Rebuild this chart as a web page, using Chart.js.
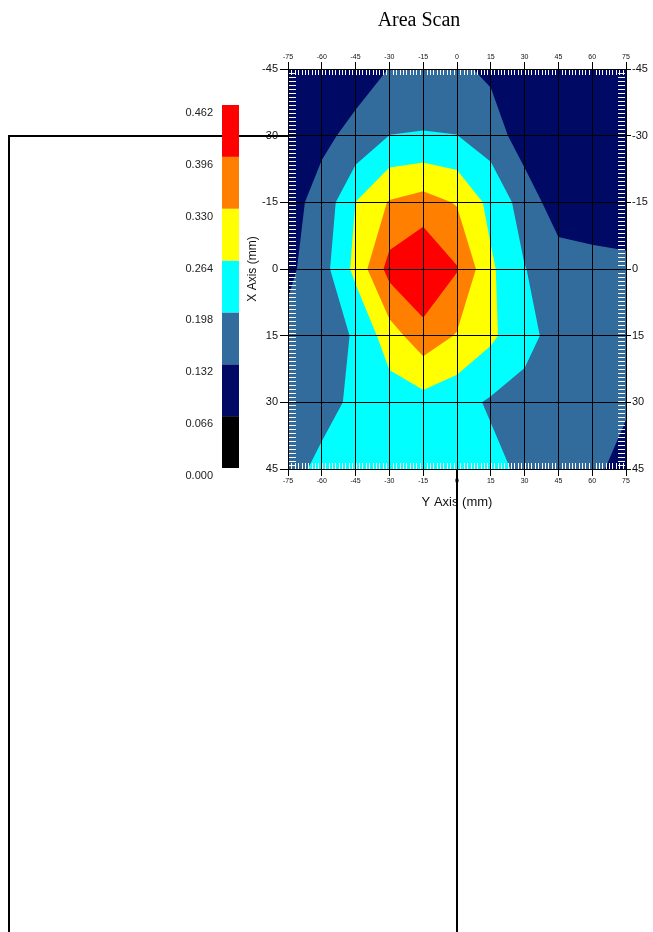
<!DOCTYPE html>
<html>
<head>
<meta charset="utf-8">
<title>Area Scan</title>
<script src="https://cdn.jsdelivr.net/npm/chart.js@4.4.0/dist/chart.umd.min.js"></script>
<style>
    html, body { margin: 0; padding: 0; background: #fff; }
    canvas { display: block; }
</style>
</head>
<body>
<canvas id="scan" width="653" height="932"></canvas>
<script>
// scan node positions in mm: Y runs across, X runs down
const yAxisMm = [-75, -60, -45, -30, -15, 0, 15, 30, 45, 60, 75];
const xAxisMm = [-45, -30, -15, 0, 15, 30, 45];

const rowXm45 = [0.090, 0.100, 0.110, 0.133, 0.140, 0.145, 0.118, 0.100, 0.090, 0.085, 0.080];
const rowXm30 = [0.100, 0.121, 0.146, 0.199, 0.203, 0.199, 0.168, 0.097, 0.090, 0.085, 0.080];
const rowXm15 = [0.113, 0.151, 0.265, 0.335, 0.355, 0.325, 0.245, 0.170, 0.096, 0.090, 0.090];
const rowX0 = [0.118, 0.171, 0.282, 0.420, 0.467, 0.400, 0.275, 0.200, 0.165, 0.156, 0.148];
const rowX15 = [0.150, 0.175, 0.203, 0.300, 0.370, 0.325, 0.277, 0.216, 0.176, 0.160, 0.150];
const rowX30 = [0.150, 0.170, 0.215, 0.230, 0.240, 0.221, 0.190, 0.179, 0.160, 0.150, 0.145];
const rowX45 = [0.170, 0.218, 0.225, 0.220, 0.220, 0.215, 0.216, 0.185, 0.160, 0.154, 0.096];

// colour bar levels
const levels = [0.000, 0.066, 0.132, 0.198, 0.264, 0.330, 0.396, 0.462];

const bandColors = ['#000000', '#000A64', '#316C9C', '#00FFFF', '#FFFF00', '#FF8000', '#FF0000'];
const grid = [rowXm45, rowXm30, rowXm15, rowX0, rowX15, rowX30, rowX45];

const fontSans = 'Liberation Sans';

// filled contours, marching squares per cell, one path per level
const contourPlugin = {
    id: 'contour',
    beforeDraw(chart) {
        const {ctx, chartArea: a} = chart;
        const xs = chart.scales.x, ys = chart.scales.y;
        ctx.save();
        ctx.beginPath();
        ctx.rect(a.left, a.top, a.right - a.left, a.bottom - a.top);
        ctx.clip();
        for (let k = 0; k < bandColors.length; k++) {
            const lev = levels[k];
            ctx.beginPath();
            for (let i = 0; i < xAxisMm.length - 1; i++) {
                for (let j = 0; j < yAxisMm.length - 1; j++) {
                    const c = [
                        [yAxisMm[j], xAxisMm[i], grid[i][j]],
                        [yAxisMm[j + 1], xAxisMm[i], grid[i][j + 1]],
                        [yAxisMm[j + 1], xAxisMm[i + 1], grid[i + 1][j + 1]],
                        [yAxisMm[j], xAxisMm[i + 1], grid[i + 1][j]]
                    ];
                    const pts = [];
                    for (let m = 0; m < 4; m++) {
                        const p = c[m], q = c[(m + 1) % 4];
                        if (p[2] >= lev) pts.push([p[0], p[1]]);
                        if ((p[2] >= lev) !== (q[2] >= lev)) {
                            const t = (lev - p[2]) / (q[2] - p[2]);
                            pts.push([p[0] + t * (q[0] - p[0]), p[1] + t * (q[1] - p[1])]);
                        }
                    }
                    if (pts.length < 3) continue;
                    pts.forEach(function (pt, n) {
                        const px = xs.getPixelForValue(pt[0]);
                        const py = ys.getPixelForValue(pt[1]);
                        if (n === 0) ctx.moveTo(px, py); else ctx.lineTo(px, py);
                    });
                    ctx.closePath();
                }
            }
            ctx.fillStyle = bandColors[k];
            ctx.fill();
        }

        // white minor ticks along the inside of the frame
        ctx.strokeStyle = '#ffffff';
        ctx.lineWidth = 1;
        ctx.beginPath();
        for (let v = -75 + 1.5; v < 75; v += 1.5) {
            const px = Math.round(xs.getPixelForValue(v)) + 0.5;
            ctx.moveTo(px, a.top);
            ctx.lineTo(px, a.top + 6);
            ctx.moveTo(px, a.bottom);
            ctx.lineTo(px, a.bottom - 6);
        }
        for (let v = -45 + 0.9; v < 45; v += 0.9) {
            const py = Math.round(ys.getPixelForValue(v)) + 0.5;
            ctx.moveTo(a.left + 1, py);
            ctx.lineTo(a.left + 8, py);
            ctx.moveTo(a.right - 1, py);
            ctx.lineTo(a.right - 8, py);
        }
        ctx.stroke();
        ctx.restore();
    },
    afterDraw(chart) {
        const {ctx, chartArea: a} = chart;
        const xs = chart.scales.x, ys = chart.scales.y;
        const H = chart.height;
        ctx.save();

        // connector lines
        ctx.strokeStyle = '#000';
        ctx.lineWidth = 2;
        const yLine = Math.round(ys.getPixelForValue(-30));
        const xLine = Math.round(xs.getPixelForValue(0));
        ctx.beginPath();
        ctx.moveTo(a.left, yLine);
        ctx.lineTo(9, yLine);
        ctx.lineTo(9, H);
        ctx.moveTo(xLine, a.bottom);
        ctx.lineTo(xLine, H);
        ctx.stroke();

        // colour bar
        const barX = 222, barW = 17, barTop = 105, barBottom = 468;
        const bandH = (barBottom - barTop) / bandColors.length;
        bandColors.forEach(function (col, k) {
            ctx.fillStyle = col;
            ctx.fillRect(barX, barBottom - (k + 1) * bandH, barW, bandH);
        });
        ctx.fillStyle = '#222';
        ctx.font = '11px "' + fontSans + '"';
        ctx.textAlign = 'right';
        ctx.textBaseline = 'middle';
        levels.forEach(function (lv, k) {
            ctx.fillText(lv.toFixed(3), 213, barBottom - k * bandH + 8);
        });

        // title
        ctx.fillStyle = '#000';
        ctx.font = '20px "Liberation Serif"';
        ctx.textAlign = 'center';
        ctx.textBaseline = 'alphabetic';
        ctx.fillText('Area Scan', 419, 26);
        ctx.restore();
    }
};

const smallTicks = {stepSize: 15, font: {family: fontSans, size: 7}, color: '#111', maxRotation: 0, autoSkip: false, padding: 1};
const sideTicks = {stepSize: 15, font: {family: fontSans, size: 11}, color: '#111', autoSkip: false};

const chart = new Chart(document.getElementById('scan'), {
    type: 'scatter',
    data: {datasets: []},
    options: {
        responsive: false,
        animation: false,
        layout: {padding: {left: 245, right: 0, top: 47, bottom: 418}},
        plugins: {
            legend: {display: false},
            tooltip: {enabled: false},
            title: {display: false}
        },
        scales: {
            x: {
                type: 'linear', position: 'bottom', min: -75, max: 75,
                ticks: smallTicks,
                grid: {color: '#000', lineWidth: 1, tickLength: 7},
                border: {color: '#000'},
                title: {display: true, text: 'Y Axis (mm)', color: '#111', font: {family: fontSans, size: 13}, padding: {top: 0, bottom: 4}},
                afterFit: function (s) { s.height = 45; }
            },
            x2: {
                type: 'linear', axis: 'x', position: 'top', min: -75, max: 75,
                ticks: smallTicks,
                grid: {color: '#000', drawOnChartArea: false, tickLength: 7},
                border: {color: '#000'},
                afterFit: function (s) { s.height = 22; }
            },
            y: {
                type: 'linear', position: 'left', min: -45, max: 45, reverse: true,
                ticks: Object.assign({}, sideTicks, {padding: 2}),
                grid: {color: '#000', lineWidth: 1, tickLength: 8},
                border: {color: '#000'},
                title: {display: true, text: 'X Axis (mm)', color: '#111', font: {family: fontSans, size: 12}, padding: 0},
                afterFit: function (s) { s.width = 43; }
            },
            y2: {
                type: 'linear', axis: 'y', position: 'right', min: -45, max: 45, reverse: true,
                ticks: Object.assign({}, sideTicks, {padding: 1}),
                grid: {color: '#000', drawOnChartArea: false, tickLength: 5},
                border: {color: '#000'},
                afterFit: function (s) { s.width = 27; }
            }
        }
    },
    plugins: [contourPlugin]
});
</script>
</body>
</html>
